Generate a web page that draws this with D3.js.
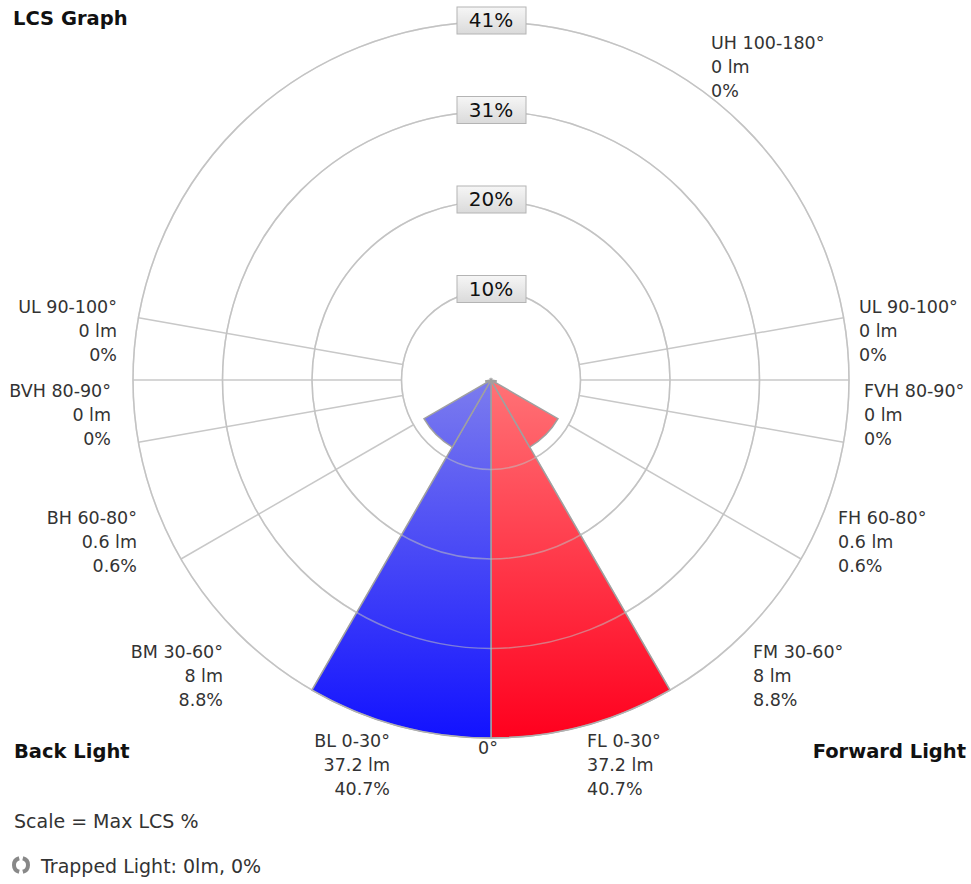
<!DOCTYPE html>
<html>
<head>
<meta charset="utf-8">
<script src="https://cdn.jsdelivr.net/npm/d3@7"></script>
<style>
  body { margin: 0; background: #fff; }
  text { font-family: "DejaVu Sans", Verdana, sans-serif; }
</style>
</head>
<body>
<div id="chart"></div>
<script>
// zone data, angles measured from straight down (nadir)
var zoneStart = [0, 30, 60, 80, 90];
var zoneEnd = [30, 60, 80, 90, 100];
var forwardZones = ["FL 0-30°", "FM 30-60°", "FH 60-80°", "FVH 80-90°", "UL 90-100°"];
var backZones = ["BL 0-30°", "BM 30-60°", "BH 60-80°", "BVH 80-90°", "UL 90-100°"];
var forwardLm = [37.2, 8, 0.6, 0, 0];
var forwardPct = [40.7, 8.8, 0.6, 0, 0];
var backLm = [37.2, 8, 0.6, 0, 0];
var backPct = [40.7, 8.8, 0.6, 0, 0];
var uhZone = "UH 100-180°", uhLm = 0, uhPct = 0;
var maxLcs = 40.7;
var ringFractions = [0.25, 0.5, 0.75, 1];
var gridAngles = [30, 60, 80, 90, 100];

// layout
var W = 971, H = 884;
var cx = 491, cy = 380, R = 358;
var lineH = 24;
// label anchors (first line centre)
var forwardLabelPos = [[587, 741], [753, 652], [838, 518], [864, 391], [859, 307]];
var backLabelPos = [[390, 741], [223, 652], [137, 518], [111, 391], [117, 307]];
var uhLabelPos = [711, 43];

var svg = d3.select("#chart").append("svg")
  .attr("width", W)
  .attr("height", H);

var r = d3.scaleLinear().domain([0, maxLcs]).range([0, R]);
var rad = function(a) { return a * Math.PI / 180; };

var defs = svg.append("defs");
function grad(id, c0, c1) {
  var g = defs.append("linearGradient").attr("id", id)
    .attr("gradientUnits", "userSpaceOnUse")
    .attr("x1", 0).attr("y1", 0).attr("x2", 0).attr("y2", R);
  g.append("stop").attr("offset", 0).attr("stop-color", c0);
  g.append("stop").attr("offset", 1).attr("stop-color", c1);
}
grad("blueGrad", "#7c7cee", "#1212ff");
grad("redGrad", "#ff7276", "#ff001e");
var boxGrad = defs.append("linearGradient").attr("id", "boxGrad")
  .attr("x1", 0).attr("y1", 0).attr("x2", 0).attr("y2", 1);
boxGrad.append("stop").attr("offset", 0).attr("stop-color", "#f6f6f6");
boxGrad.append("stop").attr("offset", 1).attr("stop-color", "#dadada");

var g = svg.append("g").attr("transform", "translate(" + cx + "," + cy + ")");

var ringRadii = ringFractions.map(function(f) { return r(maxLcs * f); });

// rings
g.selectAll("circle.ring")
  .data(ringRadii)
  .enter().append("circle")
    .attr("class", "ring")
    .attr("r", function(d) { return d; })
    .attr("fill", "none")
    .attr("stroke", "#c8c8c8")
    .attr("stroke-width", 1.5);

// radial lines, both sides, from inner ring to outer ring
var spokes = [];
gridAngles.forEach(function(a) { spokes.push(a); spokes.push(-a); });
g.selectAll("line.spoke")
  .data(spokes)
  .enter().append("line")
    .attr("x1", function(a) { return ringRadii[0] * Math.sin(rad(a)); })
    .attr("y1", function(a) { return ringRadii[0] * Math.cos(rad(a)); })
    .attr("x2", function(a) { return R * Math.sin(rad(a)); })
    .attr("y2", function(a) { return R * Math.cos(rad(a)); })
    .attr("stroke", "#c8c8c8")
    .attr("stroke-width", 1.5);

// wedges
var arc = d3.arc().innerRadius(0);
var wedges = [];
zoneStart.forEach(function(s, i) {
  wedges.push({side: "F", pct: forwardPct[i], start: Math.PI - rad(zoneEnd[i]), end: Math.PI - rad(s)});
  wedges.push({side: "B", pct: backPct[i], start: Math.PI + rad(s), end: Math.PI + rad(zoneEnd[i])});
});
g.selectAll("path.wedge")
  .data(wedges.filter(function(d) { return d.pct > 0; }))
  .enter().append("path")
    .attr("class", "wedge")
    .attr("d", function(d) {
      return arc({outerRadius: r(d.pct), startAngle: d.start, endAngle: d.end});
    })
    .attr("fill", function(d) { return d.side == "F" ? "url(#redGrad)" : "url(#blueGrad)"; })
    .attr("stroke", "#a0a0a0")
    .attr("stroke-width", 1.5);

// rings again, faint over the wedges
g.selectAll("circle.ringTop")
  .data(ringRadii)
  .enter().append("circle")
    .attr("r", function(d) { return d; })
    .attr("fill", "none")
    .attr("stroke", "#c0c0c0")
    .attr("stroke-width", 1.5)
    .attr("stroke-opacity", 0.55);

// ring value boxes
var fmt = d3.format(".0f");
var boxes = g.selectAll("g.box")
  .data(ringFractions)
  .enter().append("g")
    .attr("transform", function(f) { return "translate(0," + (-r(maxLcs * f)) + ")"; });
boxes.append("rect")
  .attr("x", -34).attr("y", -15)
  .attr("width", 69).attr("height", 27)
  .attr("fill", "url(#boxGrad)")
  .attr("stroke", "#b4b4b4")
  .attr("stroke-width", 1);
boxes.append("text")
  .attr("text-anchor", "middle")
  .attr("y", -2)
  .attr("dy", "0.36em")
  .attr("font-size", 20)
  .attr("fill", "#111")
  .text(function(f) { return fmt(maxLcs * f) + "%"; });

// zone labels
function zoneLabel(x, y, anchor, lines) {
  var t = svg.append("text")
    .attr("text-anchor", anchor)
    .attr("font-size", 17.5)
    .attr("fill", "#333");
  lines.forEach(function(s, i) {
    t.append("tspan").attr("x", x).attr("y", y + i * lineH).attr("dy", "0.36em").text(s);
  });
}
forwardZones.forEach(function(z, i) {
  zoneLabel(forwardLabelPos[i][0], forwardLabelPos[i][1], "start",
    [z, forwardLm[i] + " lm", forwardPct[i] + "%"]);
});
backZones.forEach(function(z, i) {
  zoneLabel(backLabelPos[i][0], backLabelPos[i][1], "end",
    [z, backLm[i] + " lm", backPct[i] + "%"]);
});
zoneLabel(uhLabelPos[0], uhLabelPos[1], "start", [uhZone, uhLm + " lm", uhPct + "%"]);

svg.append("text")
  .attr("x", 488).attr("y", 748).attr("dy", "0.36em")
  .attr("text-anchor", "middle")
  .attr("font-size", 17.5).attr("fill", "#333")
  .text("0°");

// titles
svg.append("text").attr("x", 13).attr("y", 18).attr("dy", "0.36em")
  .attr("font-size", 19.5).attr("font-weight", "bold").attr("fill", "#111")
  .text("LCS Graph");
svg.append("text").attr("x", 14).attr("y", 751).attr("dy", "0.36em")
  .attr("font-size", 19.5).attr("font-weight", "bold").attr("fill", "#111")
  .text("Back Light");
svg.append("text").attr("x", 966).attr("y", 751).attr("dy", "0.36em")
  .attr("text-anchor", "end")
  .attr("font-size", 19.5).attr("font-weight", "bold").attr("fill", "#111")
  .text("Forward Light");
svg.append("text").attr("x", 14).attr("y", 821).attr("dy", "0.36em")
  .attr("font-size", 19).attr("fill", "#333")
  .text("Scale = Max LCS %");

// trapped light icon (two circular arrows)
var icon = svg.append("g").attr("transform", "translate(21,865)");
var iconArc = d3.arc().innerRadius(5).outerRadius(9);
icon.append("path").attr("d", iconArc({startAngle: rad(15), endAngle: rad(165)})).attr("fill", "#888");
icon.append("path").attr("d", iconArc({startAngle: rad(195), endAngle: rad(345)})).attr("fill", "#888");
svg.append("text").attr("x", 41).attr("y", 866).attr("dy", "0.36em")
  .attr("font-size", 19).attr("fill", "#333")
  .text("Trapped Light: 0lm, 0%");
</script>
</body>
</html>
